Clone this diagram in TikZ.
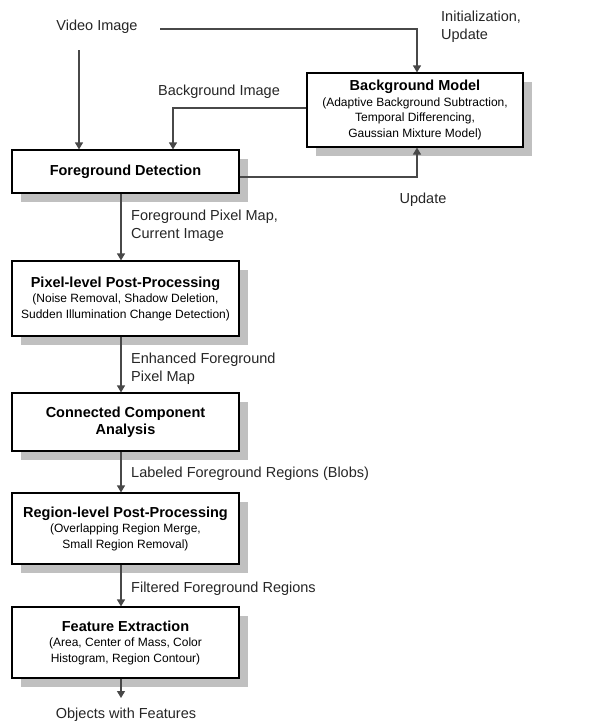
\documentclass[tikz,border=0pt]{standalone}
\usepackage{fontspec}
\setmainfont{Liberation Sans}
\usetikzlibrary{arrows.meta,shadows}
\definecolor{linegray}{HTML}{484848}
\definecolor{shadowgray}{HTML}{C0C0C0}
\newcommand{\ttlfont}{\fontsize{14.5}{16}\selectfont\bfseries}
\newcommand{\sbfont}{\fontsize{12}{15.5}\selectfont}
\tikzset{
  procbox/.style={draw=black, line width=1.1pt, fill=white, align=center,
    inner sep=0pt, font=\sbfont,
    drop shadow={shadow xshift=9pt, shadow yshift=-9pt, fill=shadowgray, opacity=1}},
  conn/.style={draw=linegray, line width=1.1pt, -{Triangle[length=7pt,width=8pt]}},
  lbl/.style={font=\fontsize{14.5}{18}\selectfont, inner sep=0pt, text=black!85},
  lbll/.style={lbl, align=left, anchor=west}
}
\begin{document}
\begin{tikzpicture}[x=1pt,y=-1pt]
\useasboundingbox[fill=white] (0,0) rectangle (593,724);

% boxes
\node[procbox, minimum width=216pt, minimum height=74pt] (bg) at (415,110)
  {{\ttlfont Background Model}\\(Adaptive Background Subtraction,\\Temporal Differencing,\\Gaussian Mixture Model)};
\node[procbox, minimum width=227pt, minimum height=43pt] (fd) at (125.5,171.5)
  {{\ttlfont Foreground Detection}};
\node[procbox, minimum width=227pt, minimum height=75pt] (pp) at (125.5,298.5)
  {{\ttlfont Pixel-level Post-Processing}\\(Noise Removal, Shadow Deletion,\\Sudden Illumination Change Detection)};
\node[procbox, minimum width=227pt, minimum height=58pt] (cc) at (125.5,422)
  {{\ttlfont Connected Component}\\[2pt]{\ttlfont Analysis}};
\node[procbox, minimum width=227pt, minimum height=71pt] (rp) at (125.5,528.5)
  {{\ttlfont Region-level Post-Processing}\\(Overlapping Region Merge,\\Small Region Removal)};
\node[procbox, minimum width=227pt, minimum height=71pt] (fe) at (125.5,642.5)
  {{\ttlfont Feature Extraction}\\(Area, Center of Mass, Color\\Histogram, Region Contour)};

% labels
\node[lbl] (video) at (97,27) {Video Image};
\node[lbll] (init) at (441,27) {Initialization,\\Update};
\node[lbl] (bgimg) at (219,92) {Background Image};
\node[lbl] (upd) at (423,200) {Update};
\node[lbll] (fpm) at (131,226) {Foreground Pixel Map,\\Current Image};
\node[lbll] (efp) at (131,368.5) {Enhanced Foreground\\Pixel Map};
\node[lbll] (lfr) at (131,474) {Labeled Foreground Regions (Blobs)};
\node[lbll] (ffr) at (131,589) {Filtered Foreground Regions};
\node[lbl] (owf) at (126,715) {Objects with Features};

% free ends
\coordinate (vs) at (79,50);
\coordinate (vh) at (160,29);
\coordinate (out) at (121,698);

% connectors
\draw[conn] (vs) -- (vs |- fd.north);
\draw[conn] (vh) -| ([xshift=2pt]bg.north);
\draw[conn] ([yshift=2pt]bg.west) -| ([xshift=47.5pt]fd.north);
\draw[conn] ([yshift=-5.5pt]fd.east) -| ([xshift=2pt]bg.south);
\draw[conn] ([xshift=-4.5pt]fd.south) -- ([xshift=-4.5pt]pp.north);
\draw[conn] ([xshift=-4.5pt]pp.south) -- ([xshift=-4.5pt]cc.north);
\draw[conn] ([xshift=-4.5pt]cc.south) -- ([xshift=-4.5pt]rp.north);
\draw[conn] ([xshift=-4.5pt]rp.south) -- ([xshift=-4.5pt]fe.north);
\draw[conn] ([xshift=-4.5pt]fe.south) -- (out);
\end{tikzpicture}
\end{document}
